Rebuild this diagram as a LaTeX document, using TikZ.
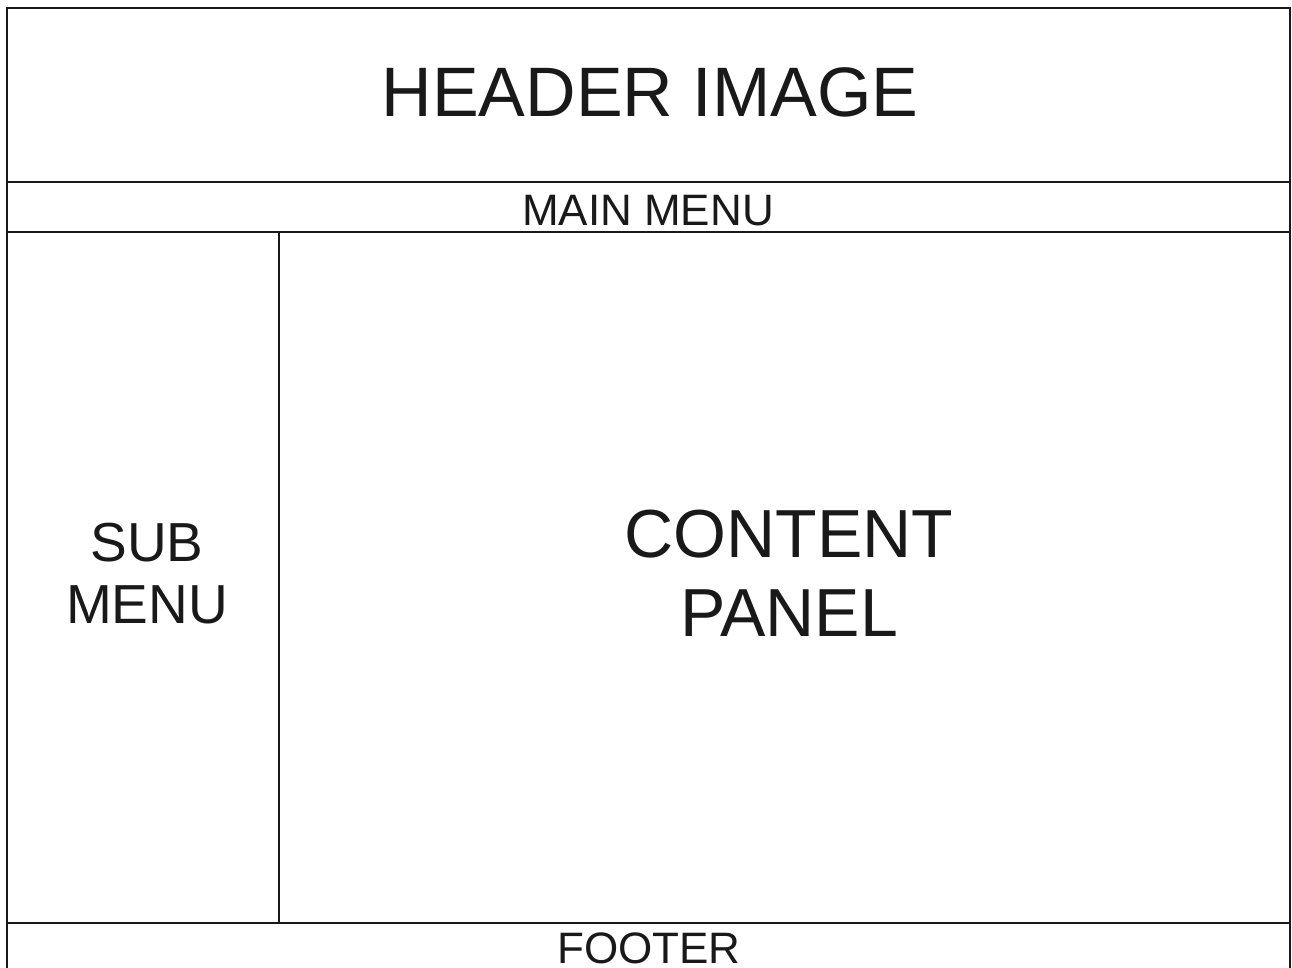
\documentclass[tikz,border=0pt]{standalone}
\usepackage{fontspec}
\setmainfont{Liberation Sans}
\begin{document}
\begin{tikzpicture}[x=0.5pt, y=-0.5pt,
  frame/.style={line width=1pt, draw=black!90},
  label/.style={inner sep=0pt, align=center, text=black!90}]
  \useasboundingbox (0,0) rectangle (1292,968);
  \fill[white] (0,0) rectangle (1292,968);
  \begin{scope}
    \clip (0,0) rectangle (1292,968);
    % outer page frame (runs past the bottom edge)
    \draw[frame] (7,1000) -- (7,8) -- (1290,8) -- (1290,1000);
    % header / main menu / footer separators
    \draw[frame] (7,182) -- (1290,182);
    \draw[frame] (7,232) -- (1290,232);
    \draw[frame] (7,923) -- (1290,923);
    % sub menu column divider
    \draw[frame] (279,232) -- (279,923);
  \end{scope}
  \node[label, font=\fontsize{35}{40}\selectfont] (header) at (650,92.5) {HEADER IMAGE};
  \node[label, font=\fontsize{22}{26}\selectfont] (mainmenu) at (648,211) {MAIN MENU};
  \node[label, font=\fontsize{27.5}{31}\selectfont] (submenu) at (147,573.5) {SUB\\MENU};
  \node[label, font=\fontsize{34}{39.5}\selectfont] (content) at (789,573) {CONTENT\\PANEL};
  \node[label, font=\fontsize{22}{26}\selectfont] (footer) at (649,948) {FOOTER};
\end{tikzpicture}
\end{document}
